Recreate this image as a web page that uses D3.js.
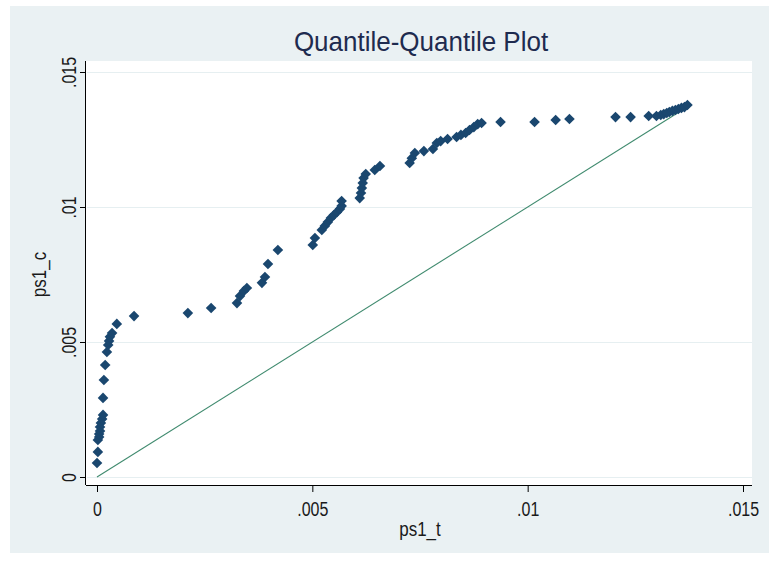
<!DOCTYPE html>
<html>
<head>
<meta charset="utf-8">
<script src="https://cdn.jsdelivr.net/npm/d3@7"></script>
<style>
  html, body { margin: 0; padding: 0; background: #ffffff; }
  svg { display: block; }
  text { font-family: "Liberation Sans", Arial, sans-serif; fill: #1a1a1a; }
</style>
</head>
<body>
<svg id="chart" width="769" height="561"></svg>
<script>
// Sorted quantiles of ps1_t (x) against ps1_c (y)
const ps1_t = [
  0.00000, 0.00002, 0.00002, 0.00005, 0.00005, 0.00007, 0.00007, 0.00009, 0.00012, 0.00014,
  0.00014, 0.00016, 0.00019, 0.00023, 0.00026, 0.00028, 0.00030, 0.00035, 0.00046, 0.00086,
  0.00211, 0.00265, 0.00325, 0.00332, 0.00341, 0.00348, 0.00383, 0.00390, 0.00397, 0.00420,
  0.00501, 0.00506, 0.00522, 0.00529, 0.00536, 0.00543, 0.00550, 0.00557, 0.00564, 0.00568,
  0.00568, 0.00610, 0.00613, 0.00615, 0.00617, 0.00619, 0.00624, 0.00645, 0.00657, 0.00726,
  0.00731, 0.00738, 0.00759, 0.00780, 0.00789, 0.00798, 0.00814, 0.00835, 0.00845, 0.00856,
  0.00865, 0.00875, 0.00884, 0.00893, 0.00937, 0.01016, 0.01065, 0.01097, 0.01204, 0.01239,
  0.01281, 0.01299, 0.01309, 0.01316, 0.01323, 0.01329, 0.01336, 0.01343, 0.01350, 0.01357,
  0.01364, 0.01371
];
const ps1_c = [
  0.00052, 0.00093, 0.00137, 0.00148, 0.00159, 0.00170, 0.00185, 0.00200, 0.00215, 0.00230,
  0.00293, 0.00359, 0.00415, 0.00463, 0.00489, 0.00504, 0.00519, 0.00533, 0.00567, 0.00596,
  0.00607, 0.00626, 0.00644, 0.00670, 0.00689, 0.00700, 0.00719, 0.00741, 0.00789, 0.00841,
  0.00859, 0.00885, 0.00915, 0.00930, 0.00944, 0.00959, 0.00970, 0.00981, 0.00993, 0.01004,
  0.01022, 0.01033, 0.01052, 0.01070, 0.01089, 0.01107, 0.01122, 0.01137, 0.01152, 0.01163,
  0.01181, 0.01200, 0.01207, 0.01215, 0.01237, 0.01244, 0.01252, 0.01259, 0.01267, 0.01274,
  0.01285, 0.01296, 0.01307, 0.01311, 0.01315, 0.01315, 0.01322, 0.01326, 0.01333, 0.01333,
  0.01337, 0.01337, 0.01341, 0.01344, 0.01348, 0.01352, 0.01356, 0.01359, 0.01363, 0.01367,
  0.01370, 0.01378
];
const xTicks = [0, 0.005, 0.01, 0.015];
const yTicks = [0, 0.005, 0.01, 0.015];
const tickLabel = v => v === 0 ? "0" : String(+v.toFixed(4)).replace(/^0\./, ".");

const titleText = "Quantile-Quantile Plot";
const xTitle = "ps1_t";
const yTitle = "ps1_c";

const svg = d3.select("#chart");
const W = 769;

// graph region background
svg.append("rect").attr("x", 10).attr("y", 6).attr("width", W - 10).attr("height", 547)
  .attr("fill", "#eaf1f3");

// plot region
const plot = { left: 86, right: 752, top: 61, bottom: 485 };
svg.append("rect")
  .attr("x", plot.left).attr("y", plot.top)
  .attr("width", plot.right - plot.left).attr("height", plot.bottom - plot.top)
  .attr("fill", "#ffffff");

const x = d3.scaleLinear().domain([0, 0.015]).range([97, 743]);
const y = d3.scaleLinear().domain([0, 0.015]).range([477, 72]);

// horizontal grid lines
svg.append("g").selectAll("line").data(yTicks).join("line")
  .attr("x1", plot.left + 1).attr("x2", plot.right)
  .attr("y1", d => Math.round(y(d)) + 0.5).attr("y2", d => Math.round(y(d)) + 0.5)
  .attr("stroke", "#e6eff1").attr("stroke-width", 1.2);

// reference line y = x
const maxT = d3.max(ps1_t);
svg.append("line")
  .attr("x1", x(0)).attr("y1", y(0))
  .attr("x2", x(maxT)).attr("y2", y(maxT))
  .attr("stroke", "#3f8a6e").attr("stroke-width", 1.1);

// quantile points as diamonds
const r = 5.3;
const diamond = `M0,${-r}L${r},0L0,${r}L${-r},0Z`;
svg.append("g").selectAll("path").data(ps1_t.map((t, i) => [t, ps1_c[i]])).join("path")
  .attr("d", diamond)
  .attr("transform", d => `translate(${x(d[0])},${y(d[1])})`)
  .attr("fill", "#1a476f");

// x axis
const xAxis = d3.axisBottom(x).tickValues(xTicks).tickFormat(tickLabel).tickSize(7);
const gx = svg.append("g").attr("transform", `translate(0,${plot.bottom})`).call(xAxis);
gx.select(".domain").remove();
gx.append("line").attr("x1", plot.left).attr("x2", plot.right).attr("y1", 0.5).attr("y2", 0.5)
  .attr("stroke", "#000");
gx.selectAll(".tick line").attr("stroke", "#000");
gx.selectAll(".tick text")
  .attr("y", null).attr("dy", null)
  .attr("transform", "translate(0,31) scale(1,1.22)")
  .attr("font-size", 16).attr("fill", "#1a1a1a")
  .style("font-family", '"Liberation Sans", Arial, sans-serif');

// y axis with rotated labels
const yAxis = d3.axisLeft(y).tickValues(yTicks).tickFormat(tickLabel).tickSize(6);
const gy = svg.append("g").attr("transform", `translate(${plot.left},0)`).call(yAxis);
gy.select(".domain").remove();
gy.append("line").attr("x1", -0.5).attr("x2", -0.5).attr("y1", plot.top).attr("y2", plot.bottom)
  .attr("stroke", "#000");
gy.selectAll(".tick line").attr("stroke", "#000");
gy.selectAll(".tick text")
  .attr("x", null).attr("dy", null)
  .attr("text-anchor", "middle")
  .attr("transform", "translate(-10,0) rotate(-90) scale(1,1.22)")
  .attr("font-size", 16).attr("fill", "#1a1a1a")
  .style("font-family", '"Liberation Sans", Arial, sans-serif');

// titles
svg.append("text").attr("transform", "translate(421,51) scale(1,1.08)")
  .attr("text-anchor", "middle")
  .attr("font-size", 26).style("fill", "#1e2b4f").text(titleText);
svg.append("text").attr("transform", `translate(${(x(0) + x(0.015)) / 2},536) scale(1,1.18)`)
  .attr("text-anchor", "middle")
  .attr("font-size", 17).text(xTitle);
svg.append("text").attr("transform", `translate(46,${(y(0) + y(0.015)) / 2}) rotate(-90) scale(1,1.18)`)
  .attr("text-anchor", "middle").attr("font-size", 17).text(yTitle);
</script>
</body>
</html>
